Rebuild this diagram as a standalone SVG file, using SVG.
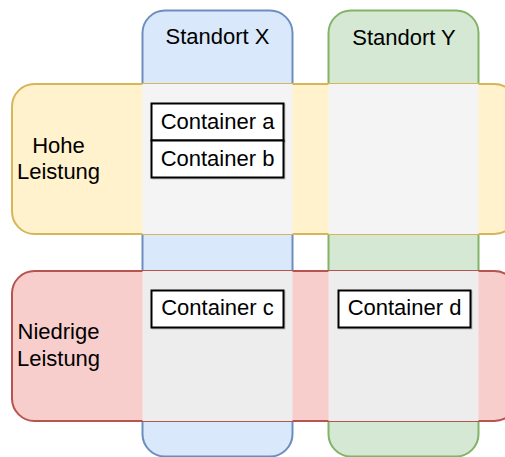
<svg xmlns="http://www.w3.org/2000/svg" width="505" height="457" viewBox="0 0 505 457">
  <style>
    text { font-family: "Liberation Sans", Arial, Helvetica, sans-serif; font-size: 22px; fill: #000000; text-anchor: middle; }
    .col-x { fill: #dae8fc; stroke: #6c8ebf; stroke-width: 2; }
    .col-y { fill: #d5e8d4; stroke: #82b366; stroke-width: 2; }
    .row-high { fill: #fff2cc; stroke: #d6b656; stroke-width: 2; }
    .row-low { fill: #f8cecc; stroke: #b85450; stroke-width: 2; }
    .cell-high { fill: #f4f4f4; }
    .cell-low { fill: #ededed; }
    .box { fill: #ffffff; stroke: #000000; stroke-width: 2; }
    .box-shadow { fill: none; stroke: #000000; stroke-opacity: 0.18; stroke-width: 2; }
  </style>

  <!-- Site columns -->
  <g id="standort-x">
    <rect class="col-x" x="142.5" y="10.5" width="150" height="446" rx="22.5" ry="22.5"/>
    <text x="217.5" y="43.5">Standort X</text>
  </g>
  <g id="standort-y">
    <rect class="col-y" x="328.5" y="10.5" width="150" height="446" rx="22.5" ry="22.5"/>
    <text x="404" y="44.5">Standort Y</text>
  </g>

  <!-- Performance rows -->
  <g id="hohe-leistung">
    <rect class="row-high" x="12" y="84" width="505" height="150" rx="22.5" ry="22.5"/>
    <text x="58.5" y="152.7">Hohe</text>
    <text x="58.5" y="179">Leistung</text>
  </g>
  <g id="niedrige-leistung">
    <rect class="row-low" x="12" y="271" width="505" height="150" rx="22.5" ry="22.5"/>
    <text x="58.5" y="339.3">Niedrige</text>
    <text x="58.5" y="365.7">Leistung</text>
  </g>

  <!-- Intersection cells -->
  <g id="zellen">
    <rect class="cell-high" x="142.5" y="84" width="150" height="150"/>
    <rect class="cell-high" x="328.5" y="84" width="150" height="150"/>
    <rect class="cell-low" x="142.5" y="271" width="150" height="150"/>
    <rect class="cell-low" x="328.5" y="271" width="150" height="150"/>
  </g>

  <!-- Containers -->
  <g id="container-a">
    <rect class="box-shadow" x="152.5" y="104.5" width="132" height="37"/>
    <rect class="box" x="151.5" y="103.5" width="132" height="37"/>
    <text x="217.5" y="128.5">Container a</text>
  </g>
  <g id="container-b">
    <rect class="box-shadow" x="152.5" y="141.5" width="132" height="37"/>
    <rect class="box" x="151.5" y="140.5" width="132" height="37"/>
    <text x="217.5" y="165.7">Container b</text>
  </g>
  <g id="container-c">
    <rect class="box-shadow" x="152.5" y="291.5" width="132" height="37"/>
    <rect class="box" x="151.5" y="290.5" width="132" height="37"/>
    <text x="217.5" y="315">Container c</text>
  </g>
  <g id="container-d">
    <rect class="box-shadow" x="339.5" y="291.5" width="132" height="37"/>
    <rect class="box" x="338.5" y="290.5" width="132" height="37"/>
    <text x="404.5" y="315">Container d</text>
  </g>

  <!-- No connectors in this diagram -->
  <g id="connectors"/>
</svg>
